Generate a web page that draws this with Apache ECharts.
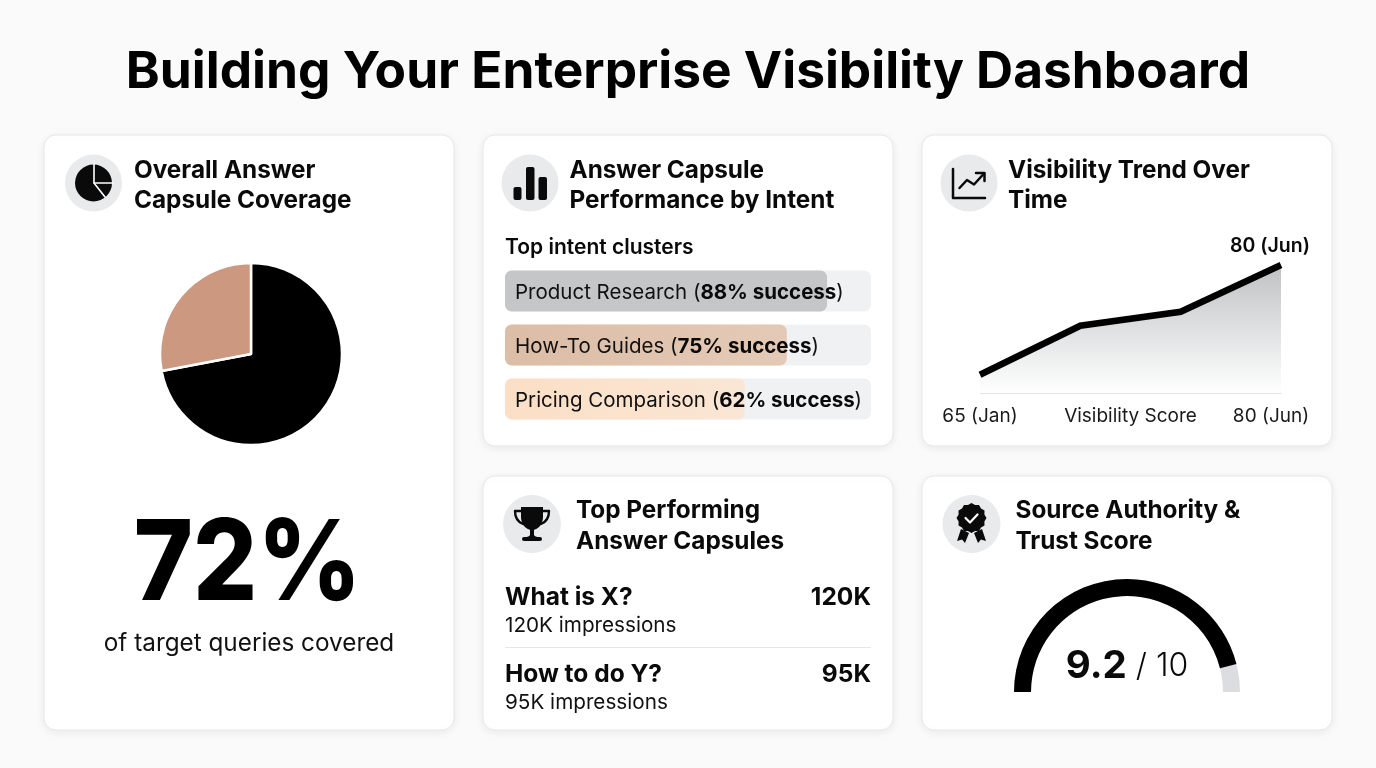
<!DOCTYPE html>
<html>
<head>
    <meta charset="utf-8">
    <script src="https://cdn.jsdelivr.net/npm/echarts@6/dist/echarts.min.js"></script>
    <style>
        html, body { margin: 0; padding: 0; background: #fafafa; }
    </style>
</head>
<body>
<div id="main" style="width: 1376px;height:768px;"></div>

<script type="text/javascript">
    // chart data
    var pieNames = ['Covered', 'Not covered'];
    var pieValues = [72, 28];

    var intentNames = ['Product Research', 'How-To Guides', 'Pricing Comparison'];
    var intentSuccess = [88, 75, 62];
    // length of the bars as drawn in the picture, share of the track
    var intentBars = [88, 77, 65.5];

    var trendMonths = ['65 (Jan)', '', '', '80 (Jun)'];
    var trendValues = [65, 71.7, 73.6, 80];

    var capsuleNames = ['What is X?', 'How to do Y?'];
    var capsuleShort = ['120K', '95K'];
    var capsuleLong = ['120K impressions', '95K impressions'];

    var trustScore = 9.2;
    var trustMax = 10;

    var FONT = 'Inter, "Noto Sans", sans-serif';
    var INK = '#0a0a0a';
    var ICON_BG = '#e9eaec';

    function card(x, y, w, h) {
        return {
            type: 'rect',
            shape: {x: x, y: y, width: w, height: h, r: 12},
            style: {
                fill: '#fff', stroke: '#e7e8ea', lineWidth: 1,
                shadowBlur: 8, shadowColor: 'rgba(0,0,0,0.07)', shadowOffsetY: 2
            }
        };
    }

    function text(str, x, y, size, weight, align, color) {
        return {
            type: 'text',
            style: {
                text: str, x: x, y: y,
                font: weight + ' ' + size + 'px ' + FONT,
                fill: color || INK,
                textAlign: align || 'left',
                textVerticalAlign: 'middle'
            }
        };
    }

    function disc(cx, cy, r, fill) {
        return {type: 'circle', shape: {cx: cx, cy: cy, r: r}, style: {fill: fill}};
    }

    // graphic component has no plain path type, so each icon outline gets registered
    var shapeCount = 0;
    function pathType(d) {
        var name = 'iconShape' + (shapeCount++);
        echarts.graphic.registerShape(name, echarts.graphic.extendPath(d));
        return name;
    }

    function stroke(d, color, width) {
        return {
            type: pathType(d),
            style: {fill: 'none', stroke: color || INK, lineWidth: width || 2.5, lineCap: 'round', lineJoin: 'round'}
        };
    }

    function solid(d, color) {
        return {type: pathType(d), style: {fill: color || INK}};
    }

    function bar(x, y, w, h) {
        return {type: 'rect', shape: {x: x, y: y, width: w, height: h, r: 2}, style: {fill: INK}};
    }

    // scalloped edge of the badge icon
    function rosette(cx, cy, r) {
        var d = '';
        var n = 24;
        for (var i = 0; i < n; i++) {
            var a = i / n * Math.PI * 2;
            var rr = i % 2 ? r - 1.6 : r;
            d += (i ? 'L' : 'M') + (cx + rr * Math.cos(a)).toFixed(1) + ' ' + (cy + rr * Math.sin(a)).toFixed(1);
        }
        return d + 'Z';
    }

    // the big number is narrower than plain Inter at this height
    var bigNumber = text(pieValues[0] + '%', 0, 0, 112, 800, 'center', '#000');
    bigNumber.x = 247.5;
    bigNumber.y = 566;
    bigNumber.scaleX = 0.9;

    var graphics = [
        card(44, 135, 410, 595),
        card(483, 135, 410, 311),
        card(922, 135, 410, 311),
        card(483, 476, 410, 254),
        card(922, 476, 410, 254),

        // pie icon
        disc(93.5, 183, 28.5, ICON_BG),
        disc(93.5, 183, 18.5, INK),
        stroke('M94 164V183H113', '#fff', 1.6),
        stroke('M94 183L105 197', '#fff', 1.6),

        // bars icon
        disc(530, 183, 28.5, ICON_BG),
        bar(513.5, 187, 8, 13),
        bar(526, 167, 8.5, 33),
        bar(538.5, 177, 8.5, 23),

        // trend icon
        disc(969, 183, 28.5, ICON_BG),
        stroke('M953 169V198H985'),
        stroke('M959.5 188L967 180L974 184.5L984 173.5'),
        stroke('M976 173H984.5V181'),

        // trophy icon
        disc(532, 524, 29, ICON_BG),
        solid('M521 507H543V517C543 524 538 530 532 530C526 530 521 524 521 517Z'),
        stroke('M521 511H515C515 518 518 522 523 524', INK, 2.4),
        stroke('M543 511H549C549 518 546 522 541 524', INK, 2.4),
        solid('M530 529H534V535C534 536 537 537 539 537.5H525C527 537 530 536 530 535Z'),
        bar(522, 537, 20, 4),

        // badge icon
        disc(971.5, 524, 29, ICON_BG),
        solid('M961 529L957 541L962 539.5L965 543L969 533Z'),
        solid('M982 529L986 541L981 539.5L978 543L974 533Z'),
        solid(rosette(971.5, 518, 15)),
        stroke('M965.5 518L970 522.5L977.5 514.5', '#fff', 2.2),

        // card headings
        text('Overall Answer', 134, 171, 24.3, 700),
        text('Capsule Coverage', 134, 201, 24.3, 700),
        text('Answer Capsule', 569.5, 171, 24.3, 700),
        text('Performance by Intent', 569.5, 201, 24.3, 700),
        text('Visibility Trend Over', 1008, 171, 24.3, 700),
        text('Time', 1008, 201, 24.3, 700),
        text('Top Performing', 576, 511, 24.3, 700),
        text('Answer Capsules', 576, 542, 24.3, 700),
        text('Source Authority &', 1015.5, 511, 24.3, 700),
        text('Trust Score', 1015.5, 542, 24.3, 700),

        // big number under the pie
        bigNumber,
        text('of target queries covered', 249, 644, 24.3, 400, 'center', '#111'),

        text('Top intent clusters', 505, 248, 21, 600),

        // top capsules list
        text(capsuleNames[0], 505, 598, 24.5, 700),
        text(capsuleShort[0], 871, 598, 24.5, 700, 'right'),
        text(capsuleLong[0], 505, 626, 20.7, 400, 'left', '#111'),
        {type: 'rect', shape: {x: 505, y: 647, width: 366, height: 1}, style: {fill: '#e4e5e7'}},
        text(capsuleNames[1], 505, 675, 24.5, 700),
        text(capsuleShort[1], 871, 675, 24.5, 700, 'right'),
        text(capsuleLong[1], 505, 703, 20.7, 400, 'left', '#111')
    ];

    var intentFills = [
        '#c4c6c7',
        new echarts.graphic.LinearGradient(0, 0, 1, 0, [{offset: 0, color: '#dcbda6'}, {offset: 1, color: '#e4cab6'}]),
        new echarts.graphic.LinearGradient(0, 0, 1, 0, [{offset: 0, color: '#fbdfc5'}, {offset: 1, color: '#fae6d5'}])
    ];

    var barData = intentBars.map(function (v, i) {
        return {value: v, itemStyle: {color: intentFills[i]}};
    });

    var myChart = echarts.init(document.getElementById('main'));
    myChart.setOption({
        animation: false,
        backgroundColor: '#fafafa',
        title: {
            text: 'Building Your Enterprise Visibility Dashboard',
            left: 'center',
            top: 42,
            textStyle: {fontFamily: FONT, fontSize: 51.4, fontWeight: 700, color: '#000'}
        },
        graphic: {elements: graphics},
        grid: [
            {left: 505, top: 264, width: 366, height: 162},
            {left: 980, top: 265, width: 301, height: 128}
        ],
        xAxis: [
            {gridIndex: 0, type: 'value', min: 0, max: 100, show: false},
            {
                gridIndex: 1,
                type: 'category',
                boundaryGap: false,
                data: trendMonths.map(function (m, i) {
                    // last label sits a little left of its point in the picture
                    return i === trendMonths.length - 1 ? {value: m, textStyle: {padding: [0, 20, 0, 0]}} : m;
                }),
                axisLine: {lineStyle: {color: '#e2e3e5', width: 1}},
                axisTick: {show: false},
                axisLabel: {interval: 0, margin: 14, fontFamily: FONT, fontSize: 19, color: '#1a1a1a'},
                name: 'Visibility Score',
                nameLocation: 'middle',
                nameGap: 14,
                nameMoveOverlap: false,
                nameTextStyle: {fontFamily: FONT, fontSize: 19, color: '#1a1a1a', verticalAlign: 'top'}
            }
        ],
        yAxis: [
            {gridIndex: 0, type: 'category', inverse: true, data: intentNames, show: false},
            {gridIndex: 1, type: 'value', min: 62.5, max: 80, show: false}
        ],
        series: [
            {
                type: 'pie',
                center: [251, 354],
                radius: [0, 91],
                startAngle: 90,
                clockwise: true,
                silent: true,
                label: {show: false},
                labelLine: {show: false},
                itemStyle: {borderColor: '#fff', borderWidth: 2.5},
                color: ['#000000', '#cd9880'],
                data: pieValues.map(function (v, i) {
                    return {name: pieNames[i], value: v};
                })
            },
            {
                type: 'bar',
                xAxisIndex: 0,
                yAxisIndex: 0,
                barWidth: 41,
                data: barData,
                showBackground: true,
                backgroundStyle: {color: '#f0f1f3', borderRadius: 7},
                itemStyle: {borderRadius: 7},
                label: {
                    show: true,
                    position: 'insideLeft',
                    distance: 10,
                    offset: [0, 1.5],
                    formatter: function (p) {
                        return '{r|' + intentNames[p.dataIndex] + ' (}{b|' + intentSuccess[p.dataIndex] + '% success}{r|)}';
                    },
                    rich: {
                        r: {fontFamily: FONT, fontSize: 20.5, fontWeight: 400, color: '#111'},
                        b: {fontFamily: FONT, fontSize: 20.5, fontWeight: 700, color: '#0a0a0a'}
                    }
                }
            },
            {
                type: 'line',
                xAxisIndex: 1,
                yAxisIndex: 1,
                data: trendValues,
                clip: false,
                symbol: 'none',
                lineStyle: {color: '#000', width: 6.5, cap: 'butt', join: 'miter'},
                endLabel: {
                    show: true,
                    formatter: trendMonths[trendMonths.length - 1],
                    offset: [-59, -19],
                    fontFamily: FONT, fontSize: 19.5, fontWeight: 600, color: INK
                },
                areaStyle: {
                    color: new echarts.graphic.LinearGradient(0, 0, 0, 1, [
                        {offset: 0, color: '#bfc1c3'},
                        {offset: 1, color: '#ffffff'}
                    ]),
                    opacity: 1
                }
            },
            {
                type: 'gauge',
                center: [1127, 692],
                radius: 113,
                min: 0,
                max: trustMax,
                startAngle: 180,
                endAngle: 0,
                data: [{value: trustScore}],
                axisLine: {lineStyle: {width: 17, color: [[1, '#dcdde0']]}},
                progress: {show: true, width: 17, itemStyle: {color: '#000'}},
                pointer: {show: false},
                axisTick: {show: false},
                splitLine: {show: false},
                axisLabel: {show: false},
                anchor: {show: false},
                title: {show: false},
                detail: {
                    offsetCenter: [0, -26],
                    formatter: function (v) {
                        return '{b|' + v + '}{r| / ' + trustMax + '}';
                    },
                    rich: {
                        b: {fontFamily: FONT, fontSize: 38.5, fontWeight: 700, color: INK},
                        r: {fontFamily: FONT, fontSize: 32, fontWeight: 300, color: INK}
                    }
                }
            }
        ]
    });
</script>
</body>
</html>
